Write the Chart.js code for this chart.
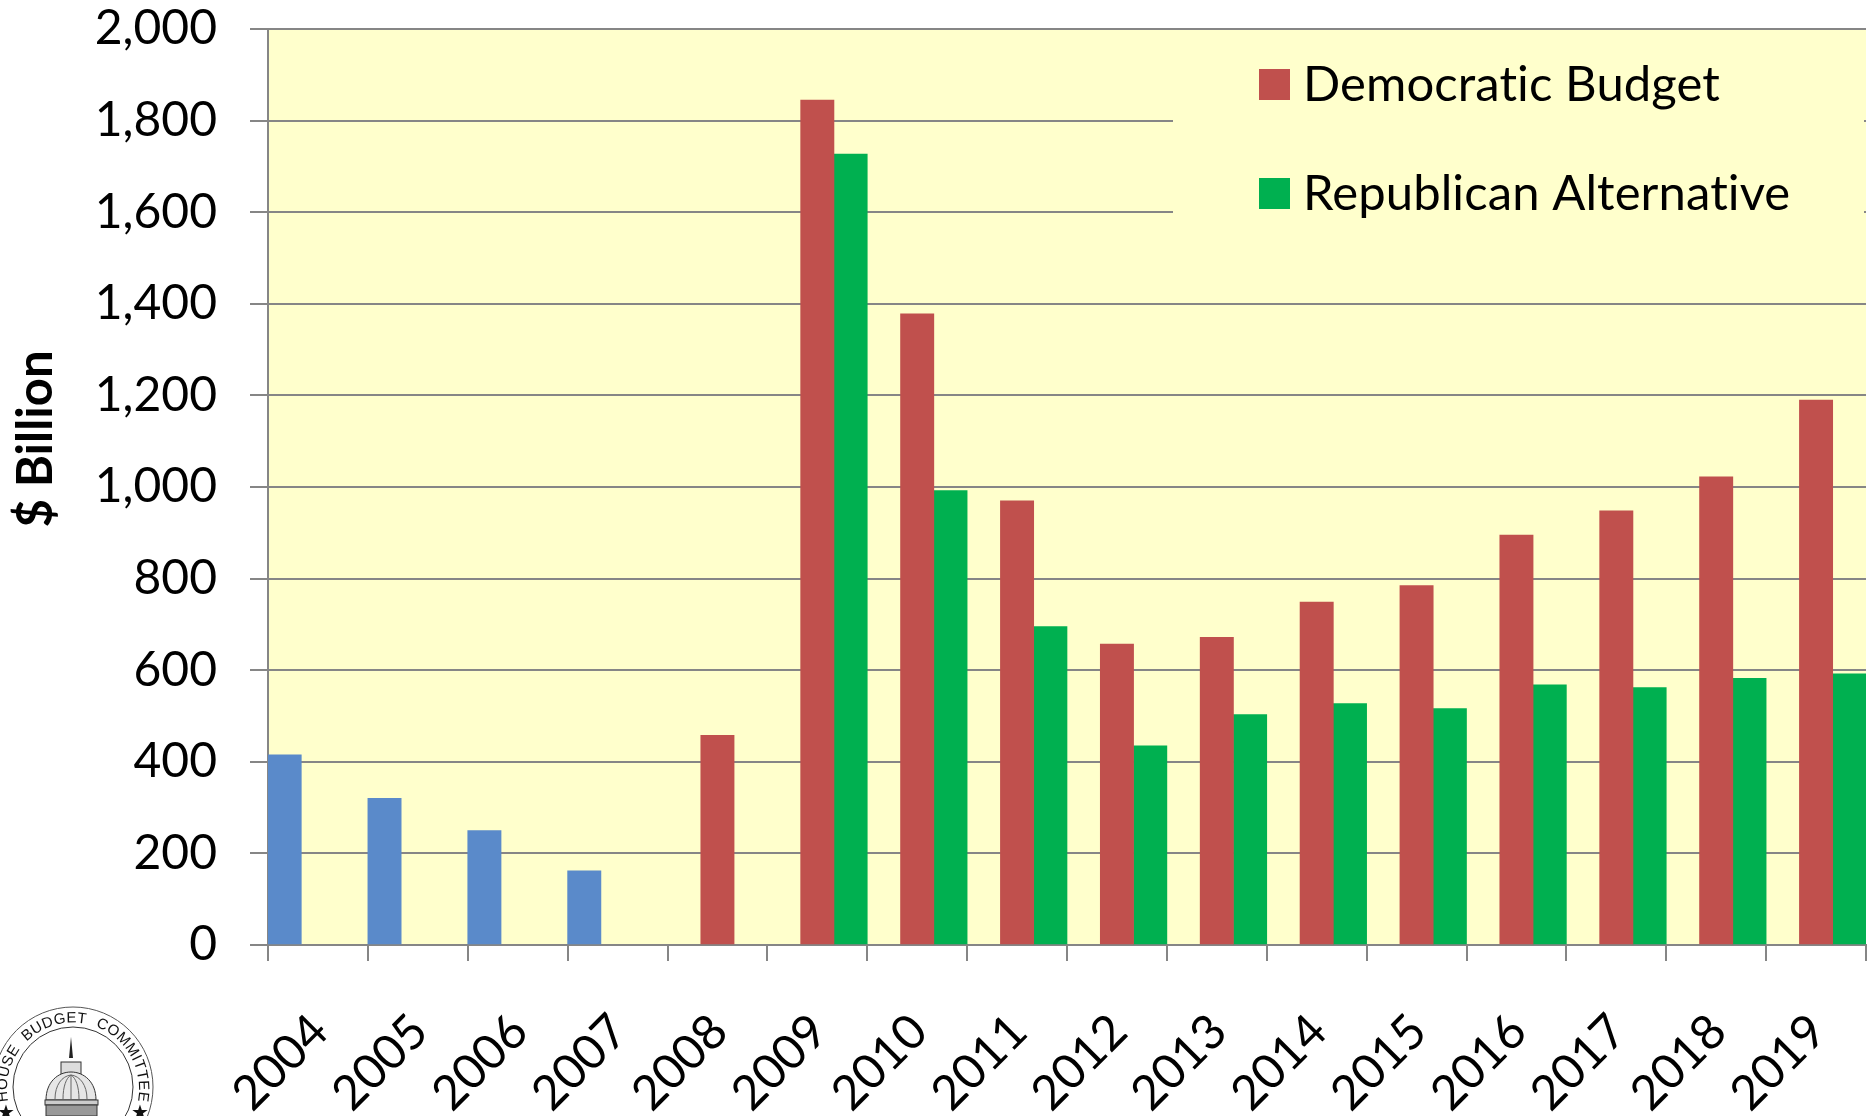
<!DOCTYPE html>
<html>
<head>
<meta charset="utf-8">
<title>Deficit chart</title>
<script src="https://cdn.jsdelivr.net/npm/chart.js@4/dist/chart.umd.min.js"></script>
<style>
    html, body { margin: 0; padding: 0; background: #fff; overflow: hidden; }
    #wrap { position: relative; width: 1876px; height: 1116px; }
    #seal { position: absolute; left: 0; top: 0; }
</style>
</head>
<body>
<div id="wrap">
    <canvas id="chart" width="1876" height="1116"></canvas>
    <svg id="seal" width="1876" height="1116" viewBox="0 0 1876 1116">
        <defs><path id="sealArc" d="M 15 1120 A 66 66 0 1 1 131 1120"/></defs>
        <circle cx="73" cy="1087" r="80" fill="#fff" stroke="#555" stroke-width="1"/>
        <circle cx="73" cy="1087" r="60" fill="#fff" stroke="#333" stroke-width="1"/>
        <text font-family="Liberation Sans" font-size="15" fill="#111" text-anchor="middle" word-spacing="5" letter-spacing="0.4">
            <textPath href="#sealArc" startOffset="50%">HOUSE BUDGET COMMITTEE</textPath>
        </text>
        <text x="6" y="1119" font-size="20" text-anchor="middle" fill="#111">★</text>
        <text x="140" y="1119" font-size="20" text-anchor="middle" fill="#111">★</text>
        <path d="M69 1058 L71 1037 L73 1058 Z" fill="#222"/>
        <rect x="61" y="1062" width="20" height="12" fill="#ddd" stroke="#333"/>
        <path d="M46 1100 C46 1082 58 1072 71 1072 C84 1072 96 1082 96 1100 Z" fill="#e6e6e6" stroke="#333"/>
        <path d="M55 1099 C55 1085 62 1076 71 1075 M63 1099 C63 1087 66 1078 71 1075 M71 1099 L71 1075 M79 1099 C79 1087 76 1078 71 1075 M87 1099 C87 1085 80 1076 71 1075" fill="none" stroke="#666" stroke-width="1"/>
        <rect x="45" y="1100" width="53" height="5" fill="#ccc" stroke="#333"/>
        <rect x="46" y="1105" width="51" height="11" fill="#999" stroke="#333"/>
    </svg>
</div>
<script>
const years = ['2004', '2005', '2006', '2007', '2008', '2009', '2010', '2011', '2012', '2013', '2014', '2015', '2016', '2017', '2018', '2019'];
const actual = [415, 320, 250, 162, null, null, null, null, null, null, null, null, null, null, null, null];
const democratic = [null, null, null, null, 458, 1845, 1378, 970, 657, 672, 749, 785, 895, 948, 1022, 1190];
const republican = [null, null, null, null, null, 1727, 992, 695, 435, 503, 527, 516, 568, 562, 582, 592];

const FONT = 'Lato, "Open Sans", sans-serif';
const GREY = '#868686';

// yellow plot background
const plotBackground = {
    id: 'plotBackground',
    beforeDraw(chart) {
        const { ctx, chartArea: a } = chart;
        ctx.save();
        ctx.fillStyle = '#FFFFCC';
        ctx.fillRect(a.left, a.top, a.right - a.left, a.bottom - a.top);
        ctx.restore();
    }
};

// legend box sits over the gridlines, y title sits above the middle of the axis
const annotations = {
    id: 'annotations',
    afterDatasetsDraw(chart) {
        const { ctx } = chart;
        ctx.save();
        ctx.fillStyle = '#FFFFCC';
        ctx.fillRect(1173, 40, 691, 240);

        ctx.font = '49px ' + FONT;
        ctx.letterSpacing = '0.1px';
        ctx.textBaseline = 'alphabetic';
        const rows = [[chart.data.datasets[1], 100], [chart.data.datasets[2], 209]];
        rows.forEach(([ds, y]) => {
            ctx.fillStyle = ds.backgroundColor;
            ctx.fillRect(1259, y - 31, 31, 31);
            ctx.fillStyle = '#000';
            ctx.fillText(ds.label, 1303, y + 1);
        });

        ctx.letterSpacing = '0px';
        ctx.translate(52, 439);
        ctx.rotate(-Math.PI / 2);
        ctx.font = 'bold 49px ' + FONT;
        ctx.textAlign = 'center';
        ctx.fillStyle = '#000';
        ctx.fillText('$ Billion', 0, 0);
        ctx.restore();
    }
};

// fixed axis sizes, and no extra room kept for the end labels
function fixAxis(scale, width, height) {
    if (width) scale.width = width;
    if (height) scale.height = height;
    scale.paddingTop = 0;
    scale.paddingBottom = 0;
    scale.paddingLeft = 0;
    scale.paddingRight = 0;
}

new Chart(document.getElementById('chart'), {
    type: 'bar',
    data: {
        labels: years,
        datasets: [
            { label: 'Actual', data: actual, backgroundColor: '#5A8ACA' },
            { label: 'Democratic Budget', data: democratic, backgroundColor: '#C0504D' },
            { label: 'Republican Alternative', data: republican, backgroundColor: '#00B050' }
        ]
    },
    options: {
        responsive: false,
        animation: false,
        layout: { padding: { top: 29, right: 10, left: 0, bottom: 0 } },
        datasets: { bar: { barPercentage: 1, categoryPercentage: 1 } },
        plugins: {
            legend: { display: false },
            tooltip: { enabled: false }
        },
        scales: {
            x: {
                grid: { drawOnChartArea: false, color: GREY, lineWidth: 2, tickLength: 16 },
                border: { color: GREY, width: 2 },
                ticks: {
                    color: '#000',
                    font: { family: FONT, size: 48 },
                    minRotation: 45,
                    maxRotation: 45,
                    padding: 42,
                    labelOffset: 2
                },
                afterFit(scale) { fixAxis(scale, 0, 171); }
            },
            y: {
                min: 0,
                max: 2000,
                grid: { color: GREY, lineWidth: 2, tickLength: 18 },
                border: { color: GREY, width: 2 },
                ticks: {
                    stepSize: 200,
                    color: '#000',
                    font: { family: FONT, size: 48 },
                    padding: 33,
                    callback: v => v.toLocaleString('en-US')
                },
                afterFit(scale) { fixAxis(scale, 268, 0); }
            }
        }
    },
    plugins: [plotBackground, annotations]
});
</script>
</body>
</html>
